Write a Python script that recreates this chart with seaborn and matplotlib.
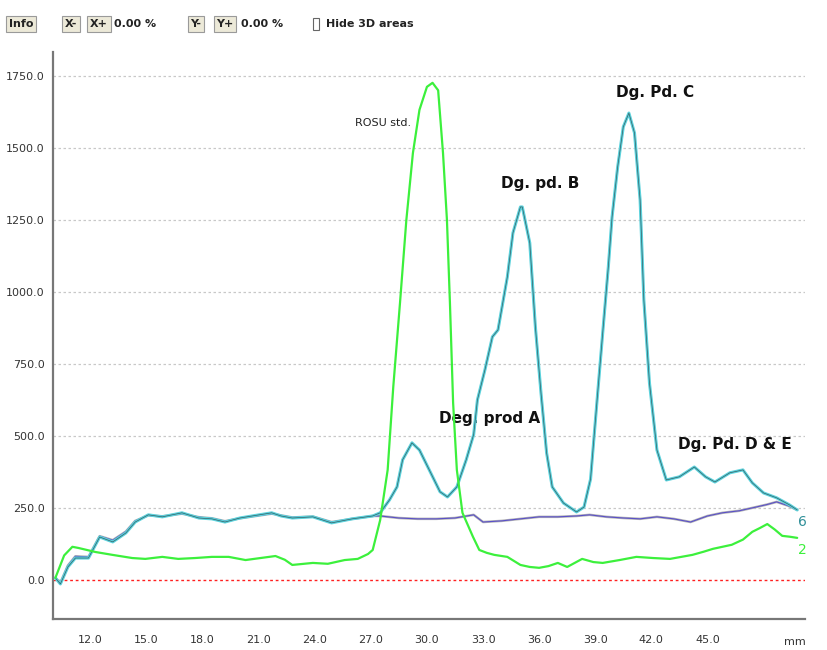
import numpy as np
import pandas as pd
import matplotlib
matplotlib.use("Agg")
import matplotlib.pyplot as plt
import seaborn as sns

# ---- data ----
std_x = [10.13, 10.6, 11.04, 11.36, 12.27, 13.18, 14.24, 14.94, 15.85, 16.7, 17.6, 18.5, 19.4, 20.3, 21.1,
         21.9, 22.4, 22.8, 23.9, 24.7, 25.6, 26.3, 26.85, 27.1, 27.5, 27.9, 28.2, 28.56, 28.9, 29.25,
         29.6, 30.0, 30.3, 30.6, 30.86, 31.07, 31.23, 31.4, 31.6, 31.9, 32.46, 32.8, 33.2, 33.6, 34.3,
         35.0, 35.5, 36.0, 36.5, 37.0, 37.5, 38.3, 38.9, 39.4, 40.3, 41.2, 42.1, 43.0, 43.6, 44.2,
         44.8, 45.3, 45.8, 46.3, 46.9, 47.4, 47.8, 48.2, 48.6, 49.0, 49.4, 49.8]
std_y = [7, 85, 115, 111, 97, 87, 76, 73, 80, 73, 76, 80, 80, 69, 76,
         83, 70, 52, 59, 56, 69, 73, 90, 104, 208, 382, 670, 962, 1250, 1482,
         1632, 1712, 1726, 1700, 1482, 1250, 962, 615, 382, 233, 150, 104, 94, 87, 80,
         52, 45, 42, 48, 59, 45, 73, 62, 59, 69, 80, 76, 73, 80, 87,
         98, 108, 115, 122, 140, 167, 180, 194, 175, 153, 150, 146]

smp_x = [10.13, 10.4, 10.8, 11.2, 11.9, 12.5, 13.2, 13.9, 14.4, 15.1, 15.85, 16.9, 17.8, 18.5, 19.2,
         20.0, 20.65, 21.7, 22.2, 22.8, 23.9, 24.9, 26.0, 27.1, 27.5, 28.0, 28.4, 28.7, 29.2, 29.6,
         30.2, 30.7, 31.1, 31.6, 32.1, 32.5, 32.7, 33.1, 33.5, 33.8, 34.3, 34.6, 35.0, 35.1, 35.5,
         35.8, 36.1, 36.4, 36.7, 37.3, 38.0, 38.4, 38.75, 39.1, 39.4, 39.7, 39.9, 40.2, 40.5, 40.8,
         41.1, 41.4, 41.6, 41.9, 42.3, 42.8, 43.5, 44.3, 44.9, 45.4, 46.2, 46.9, 47.4, 48.0, 48.7,
         49.4, 49.8]
smp_y = [7, -14, 45, 76, 76, 149, 132, 163, 201, 226, 219, 233, 215, 212, 201,
         215, 222, 233, 222, 215, 219, 198, 212, 222, 233, 278, 323, 417, 476, 451,
         372, 306, 288, 323, 417, 505, 625, 729, 844, 868, 1052, 1205, 1295, 1295, 1170,
         878, 649, 441, 323, 267, 236, 253, 350, 625, 858, 1087, 1260, 1434, 1573, 1621,
         1552, 1319, 972, 684, 451, 347, 358, 392, 358, 340, 372, 382, 337, 302, 285,
         260, 243]

blk_x = [10.13, 10.4, 10.8, 11.2, 11.9, 12.5, 13.2, 13.9, 14.4, 15.1, 15.85, 16.9, 17.8, 18.5, 19.2,
         20.0, 20.65, 21.7, 22.8, 23.9, 24.9, 26.0, 27.1, 27.5, 28.5, 29.5, 30.5, 31.5, 32.5, 33.0,
         34.0, 35.0, 36.0, 37.0, 38.0, 38.7, 39.6, 40.5, 41.4, 42.3, 43.2, 44.1, 45.0, 45.8, 46.7,
         47.6, 48.2, 48.7, 49.3, 49.8]
blk_y = [7, -10, 50, 82, 80, 152, 138, 168, 205, 224, 221, 230, 218, 214, 204,
         214, 220, 230, 217, 220, 201, 212, 222, 222, 215, 212, 212, 215, 226, 201,
         205, 212, 219, 219, 222, 226, 219, 215, 212, 219, 212, 201, 222, 233, 240,
         253, 262, 271, 258, 243]

y_ticks = [0, 250, 500, 750, 1000, 1250, 1500, 1750]
x_ticks = [12, 15, 18, 21, 24, 27, 30, 33, 36, 39, 42, 45]

df = pd.concat([
    pd.DataFrame({"mm": std_x, "AU": std_y, "track": "2"}),
    pd.DataFrame({"mm": smp_x, "AU": smp_y, "track": "6"}),
    pd.DataFrame({"mm": blk_x, "AU": blk_y, "track": "b"}),
])

sns.set_style("white")
plt.rcParams["font.family"] = ["DejaVu Sans"]

fig = plt.figure(figsize=(8.27, 6.5), dpi=100)
ax = fig.add_axes([0.064, 0.048, 0.909, 0.872])

# grid lines
for v in y_ticks[1:]:
    ax.axhline(v, color="#c8c8c8", lw=0.9, ls=(0, (2, 2)), zorder=0)
ax.axhline(0, color="#ff2020", lw=1.0, ls=(0, (2, 2)), zorder=1)

# blank track: purple with gray
sns.lineplot(data=df[df.track == "b"], x="mm", y="AU", color="#b4b4b4", lw=1.8, ax=ax, zorder=2)
sns.lineplot(data=df[df.track == "b"], x="mm", y="AU", color="#5a50c8", lw=0.8, ax=ax, zorder=3)
# sample track: cyan with dark overlay
sns.lineplot(data=df[df.track == "6"], x="mm", y="AU", color="#5cd2dc", lw=2.2, ax=ax, zorder=4)
sns.lineplot(data=df[df.track == "6"], x="mm", y="AU", color="#345f66", lw=0.5, ax=ax, zorder=5)
# standard track: green
sns.lineplot(data=df[df.track == "2"], x="mm", y="AU", color="#3cf03c", lw=1.6, ax=ax, zorder=6)

ax.set_xlim(10.0, 50.2)
ax.set_ylim(-135, 1833)
ax.set_xticks(x_ticks)
ax.set_xticklabels([f"{t:.1f}" for t in x_ticks])
ax.set_yticks(y_ticks)
ax.set_yticklabels([f"{t:.1f}" for t in y_ticks])
ax.set_xlabel("")
ax.set_ylabel("")
ax.tick_params(axis="x", length=4, width=0.8, color="#888888", labelsize=8, labelcolor="#333333", pad=8)
ax.tick_params(axis="y", length=0, labelsize=8, labelcolor="#333333", pad=6)
for s in ["top", "right"]:
    ax.spines[s].set_visible(False)
for s in ["left", "bottom"]:
    ax.spines[s].set_color("#777777")
    ax.spines[s].set_linewidth(1.6)

# annotations
ax.text(27.65, 1587, "ROSU std.", ha="center", va="center", fontsize=8, color="#222222")
ax.text(36.04, 1378, "Dg. pd. B", ha="center", va="center", fontsize=11, fontweight="bold", color="#111111")
ax.text(42.18, 1691, "Dg. Pd. C", ha="center", va="center", fontsize=11, fontweight="bold", color="#111111")
ax.text(33.37, 562, "Deg. prod A", ha="center", va="center", fontsize=11, fontweight="bold", color="#111111")
ax.text(46.45, 469, "Dg. Pd. D & E", ha="center", va="center", fontsize=11, fontweight="bold", color="#111111")
ax.text(50.1, 201, "6", ha="center", va="center", fontsize=10, color="#2f8f98")
ax.text(50.1, 104, "2", ha="center", va="center", fontsize=10, color="#3cf03c")
fig.text(795 / 827, 1 - 642 / 650, "mm", ha="center", va="center", fontsize=8, color="#333333")

# toolbar
btn = dict(boxstyle="square,pad=0.25", fc="#ece9d8", ec="#9a9a9a", lw=0.8)
ty = 1 - 24 / 650
for px, label in [(21, "Info"), (71, "X-"), (99, "X+"), (196, "Y-"), (225, "Y+")]:
    fig.text(px / 827, ty, label, ha="center", va="center", fontsize=8, fontweight="bold",
             color="#222222", bbox=btn)
fig.text(135 / 827, ty, "0.00 %", ha="center", va="center", fontsize=8, fontweight="bold", color="#222222")
fig.text(262 / 827, ty, "0.00 %", ha="center", va="center", fontsize=8, fontweight="bold", color="#222222")
fig.text(316 / 827, ty, " ", ha="center", va="center", fontsize=6,
         bbox=dict(boxstyle="square,pad=0.2", fc="white", ec="#666666", lw=0.8))
fig.text(326 / 827, ty, "Hide 3D areas", ha="left", va="center", fontsize=8, fontweight="bold", color="#222222")

fig.savefig("out.png", dpi=100)
